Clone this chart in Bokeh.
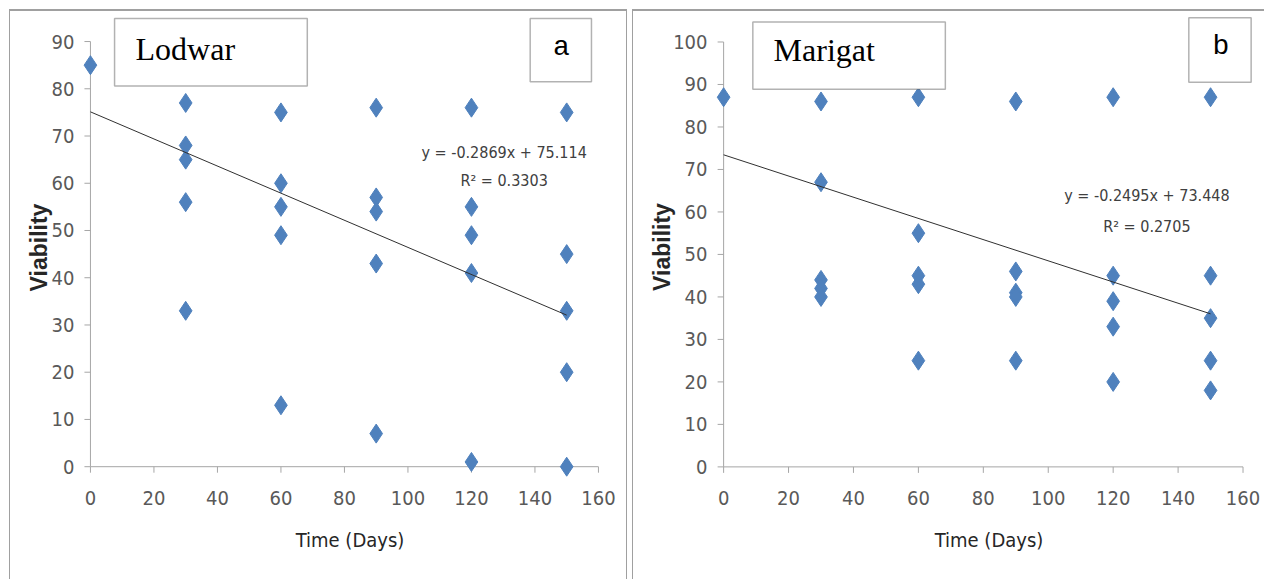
import numpy as np
from bokeh.plotting import figure
from bokeh.layouts import row
from bokeh.models import Range1d, LinearAxis, FixedTicker, Label, BoxAnnotation
from bokeh.embed import file_html
from bokeh.resources import INLINE

# ---------------- data ----------------
x_ticks = [0, 20, 40, 60, 80, 100, 120, 140, 160]

lod_time = [0, 30, 30, 30, 30, 30, 60, 60, 60, 60, 60, 90, 90, 90, 90, 90,
            120, 120, 120, 120, 120, 150, 150, 150, 150, 150]
lod_viab = [85, 77, 68, 65, 56, 33, 75, 60, 55, 49, 13, 76, 57, 54, 43, 7,
            76, 55, 49, 41, 1, 75, 45, 33, 20, 0]
lod_slope, lod_intercept, lod_r2 = -0.2869, 75.114, 0.3303
lod_y_ticks = [0, 10, 20, 30, 40, 50, 60, 70, 80, 90]

mar_time = [0, 30, 30, 30, 30, 30, 60, 60, 60, 60, 60, 90, 90, 90, 90, 90,
            120, 120, 120, 120, 120, 150, 150, 150, 150, 150]
mar_viab = [87, 86, 67, 44, 42, 40, 87, 55, 45, 43, 25, 86, 46, 41, 40, 25,
            87, 45, 39, 33, 20, 87, 45, 35, 25, 18]
mar_slope, mar_intercept, mar_r2 = -0.2495, 73.448, 0.2705
mar_y_ticks = [0, 10, 20, 30, 40, 50, 60, 70, 80, 90, 100]

# ---------------- style ----------------
NARROW = "Liberation Sans Narrow, DejaVu Sans Condensed, Roboto Condensed, Roboto"
SANS = "Liberation Sans"
SERIF = "Liberation Serif"
MONO = "Liberation Mono"
BLUE = "#4F81BD"
AXIS_GRAY = "#a6a6a6"
TICK_TXT = "#595959"


def make_panel(time, viab, slope, intercept, r2, y_ticks, y_range, cfg):
    p = figure(x_range=Range1d(-2.5, 166), y_range=Range1d(*y_range),
               frame_width=cfg["fw"], frame_height=cfg["fh"],
               min_border_left=cfg["bl"], min_border_right=cfg["br"],
               min_border_top=cfg["bt"], min_border_bottom=cfg["bb"],
               x_axis_type=None, y_axis_type=None,
               toolbar_location=None, output_backend="svg",
               outline_line_color=None, background_fill_color="white",
               border_fill_color="white", margin=cfg["margin"],
               styles=cfg["styles"])
    p.xgrid.visible = False
    p.ygrid.visible = False

    common = dict(axis_line_color=None, major_tick_line_color=None,
                  minor_tick_line_color=None, major_tick_in=0, major_tick_out=0,
                  major_label_text_font=NARROW, major_label_text_font_size="20px",
                  major_label_text_color=TICK_TXT)
    xa = LinearAxis(ticker=FixedTicker(ticks=x_ticks),
                    major_label_standoff=cfg["xstand"],
                    axis_label="Time (Days)", axis_label_standoff=cfg["xlabstand"],
                    axis_label_text_font=NARROW, axis_label_text_font_size="20px",
                    axis_label_text_font_style="normal", axis_label_text_color="#262626",
                    **common)
    ya = LinearAxis(ticker=FixedTicker(ticks=y_ticks),
                    major_label_standoff=cfg["ystand"],
                    axis_label="Viability", axis_label_standoff=cfg["ylabstand"],
                    axis_label_text_font=SANS, axis_label_text_font_size="23px",
                    axis_label_text_font_style="bold", axis_label_text_color="#262626",
                    **common)
    p.add_layout(xa, "below")
    p.add_layout(ya, "left")

    # axis lines and outward tick marks at data 0
    p.line([x_ticks[0], x_ticks[-1]], [0, 0], line_color=AXIS_GRAY, line_width=1)
    p.line([0, 0], [y_ticks[0], y_ticks[-1]], line_color=AXIS_GRAY, line_width=1)
    p.ray(x=x_ticks, y=[0] * len(x_ticks), length=6, length_units="screen",
          angle=-np.pi / 2, line_color=AXIS_GRAY, line_width=1)
    p.ray(x=[0] * len(y_ticks), y=y_ticks, length=6, length_units="screen",
          angle=np.pi, line_color=AXIS_GRAY, line_width=1)

    p.scatter(time, viab, marker="diamond", size=19, fill_color=BLUE, line_color=BLUE)

    xt = np.array([min(time), max(time)], dtype=float)
    p.line(xt, slope * xt + intercept, line_color="#303030", line_width=1)

    eq_x, eq_y, r2_y = cfg["eq"]
    sign = "+" if intercept >= 0 else "-"
    p.add_layout(Label(x=eq_x, y=eq_y, text=f"y = {slope}x {sign} {abs(intercept)}",
                       text_align="center", text_baseline="middle",
                       text_font=NARROW, text_font_size="16px", text_color="#404040"))
    p.add_layout(Label(x=eq_x, y=r2_y, text=f"R² = {r2}",
                       text_align="center", text_baseline="middle",
                       text_font=NARROW, text_font_size="16px", text_color="#404040"))

    for (l, r, b, t) in (cfg["namebox"], cfg["letterbox"]):
        p.add_layout(BoxAnnotation(left=l, right=r, bottom=b, top=t,
                                   fill_color="white", fill_alpha=1.0,
                                   line_color="black", line_width=1.5))
    nx, ny, name = cfg["name"]
    p.add_layout(Label(x=nx, y=ny, text=name, text_align="left",
                       text_baseline="alphabetic", text_font=SERIF,
                       text_font_size="32px", text_color="black"))
    lx, ly, letter = cfg["letter"]
    p.add_layout(Label(x=lx, y=ly, text=letter, text_align="center",
                       text_baseline="alphabetic", text_font=MONO,
                       text_font_size="28px", text_color="black"))
    return p


BORDER = "#a0a0a0"
left_cfg = dict(fw=533, fh=460, bl=72, br=11, bt=5, bb=103, margin=(9, 0, 0, 9),
                styles={"border-left": f"1px solid {BORDER}",
                        "border-right": f"1px solid {BORDER}",
                        "border-top": f"2px solid {BORDER}"},
                xstand=12, ystand=8, xlabstand=20, ylabstand=-3,
                eq=(130.3, 66.5, 60.5),
                namebox=(7.6, 68.3, 80.6, 94.9), letterbox=(138.5, 157.8, 81.5, 94.9),
                name=(14.2, 88.5, "Lodwar"), letter=(148.3, 88.7, "a"))
right_cfg = dict(fw=546, fh=459, bl=82, br=3, bt=5, bb=104, margin=(9, 0, 0, 5),
                 styles={"border-left": f"1px solid {BORDER}",
                         "border-top": f"2px solid {BORDER}"},
                 xstand=13, ystand=8, xlabstand=20, ylabstand=-5,
                 eq=(130.4, 63.9, 56.5),
                 namebox=(9.0, 68.3, 88.9, 104.7), letterbox=(143.3, 162.5, 90.5, 105.7),
                 name=(15.4, 98.1, "Marigat"), letter=(153.2, 99.0, "b"))

p1 = make_panel(lod_time, lod_viab, lod_slope, lod_intercept, lod_r2,
                lod_y_ticks, (-2.5, 95.3), left_cfg)
p2 = make_panel(mar_time, mar_viab, mar_slope, mar_intercept, mar_r2,
                mar_y_ticks, (-2.5, 106), right_cfg)

layout = row(p1, p2, spacing=0)
open("out.html", "w").write(file_html(layout, INLINE))
